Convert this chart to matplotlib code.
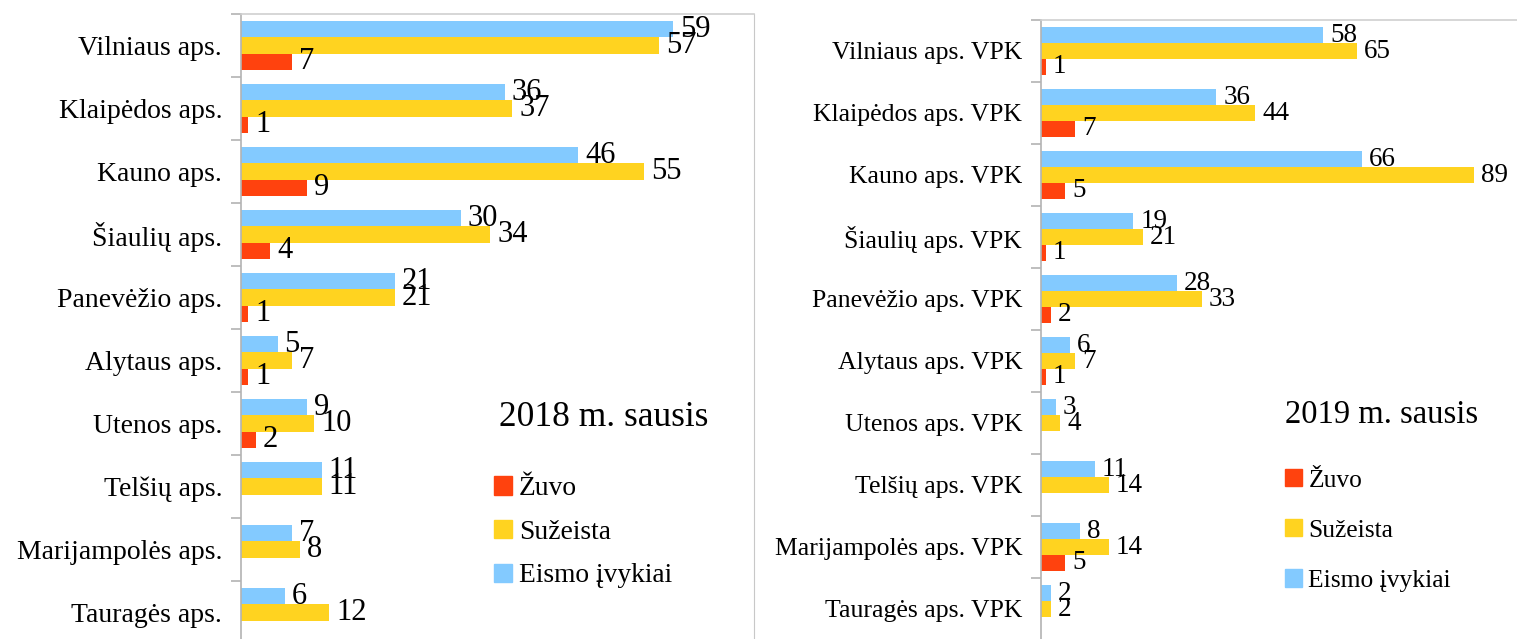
import numpy as np
import matplotlib
matplotlib.use("Agg")
import matplotlib.pyplot as plt
from matplotlib.patches import Patch

plt.rcParams['font.family'] = ['Liberation Serif', 'DejaVu Serif']

# duomenys
aps_2018 = ['Vilniaus aps.', 'Klaipėdos aps.', 'Kauno aps.', 'Šiaulių aps.', 'Panevėžio aps.',
            'Alytaus aps.', 'Utenos aps.', 'Telšių aps.', 'Marijampolės aps.', 'Tauragės aps.']
ivykiai_2018 = [59, 36, 46, 30, 21, 5, 9, 11, 7, 6]
suzeista_2018 = [57, 37, 55, 34, 21, 7, 10, 11, 8, 12]
zuvo_2018 = [7, 1, 9, 4, 1, 1, 2, 0, 0, 0]

aps_2019 = ['Vilniaus aps. VPK', 'Klaipėdos aps. VPK', 'Kauno aps. VPK', 'Šiaulių aps. VPK',
            'Panevėžio aps. VPK', 'Alytaus aps. VPK', 'Utenos aps. VPK', 'Telšių aps. VPK',
            'Marijampolės aps. VPK', 'Tauragės aps. VPK']
ivykiai_2019 = [58, 36, 66, 19, 28, 6, 3, 11, 8, 2]
suzeista_2019 = [65, 44, 89, 21, 33, 7, 4, 14, 14, 2]
zuvo_2019 = [1, 7, 5, 1, 2, 1, 0, 0, 5, 0]

serijos = ['Žuvo', 'Sužeista', 'Eismo įvykiai']
spalvos = {'Žuvo': '#ff420e', 'Sužeista': '#ffd320', 'Eismo įvykiai': '#83caff'}

W, H = 1517, 639
fig = plt.figure(figsize=(W / 100, H / 100), dpi=100)


def grafikas(rect, kategorijos, ivykiai, suzeista, zuvo, xmax, f_lab, f_val, pavadinimas,
             f_tit, tit_xy, f_leg, leg_xy, leg_sp, rank, desinys_remas):
    ax = fig.add_axes(rect)
    y = np.arange(len(kategorijos))
    h = 0.254
    for vals, dy, name in [(ivykiai, -h, 'Eismo įvykiai'), (suzeista, 0, 'Sužeista'), (zuvo, h, 'Žuvo')]:
        bars = ax.barh(y + dy, vals, height=h, color=spalvos[name], linewidth=0)
        for b, v in zip(bars, vals):
            if v == 0:
                continue
            ax.annotate(str(v), (v, b.get_y() + b.get_height() / 2), xytext=(5, 0),
                        textcoords='offset points', va='center', ha='left', fontsize=f_val)
    ax.set_xlim(0, xmax)
    ax.set_ylim(len(kategorijos) - 0.5, -0.5)
    ax.set_xticks([])
    # kategoriju ribos - didziosios zymes, pavadinimai - mazosios
    ax.set_yticks(np.arange(len(kategorijos) + 1) - 0.5)
    ax.set_yticklabels([])
    ax.tick_params(axis='y', which='major', length=7.5, color='#b3b3b3', width=1.2)
    ax.set_yticks(y, minor=True)
    ax.set_yticklabels(kategorijos, minor=True, fontsize=f_lab)
    ax.tick_params(axis='y', which='minor', length=0, pad=13.5)
    ax.spines['left'].set_color('#b3b3b3')
    ax.spines['left'].set_linewidth(1.2)
    ax.spines['top'].set_color('#d0d0d0')
    ax.spines['top'].set_linewidth(1.2)
    ax.spines['bottom'].set_visible(False)
    if desinys_remas:
        ax.spines['right'].set_color('#c8c8c8')
    else:
        ax.spines['right'].set_visible(False)

    fig.text(tit_xy[0] / W, 1 - tit_xy[1] / H, pavadinimas, fontsize=f_tit, va='center', ha='left')
    rankenos = [Patch(color=spalvos[s]) for s in serijos]
    fig.legend(rankenos, serijos, loc='upper left', bbox_to_anchor=(leg_xy[0] / W, 1 - leg_xy[1] / H),
               frameon=False, fontsize=f_leg, borderpad=0, borderaxespad=0,
               handlelength=rank, handleheight=rank, handletextpad=0.25, labelspacing=leg_sp)
    return ax


grafikas([241 / W, -5 / H, 513 / W, 630 / H], aps_2018, ivykiai_2018, suzeista_2018, zuvo_2018,
         70, 20, 22, '2018 m. sausis', 25.5, (499, 418), 19.8, (494, 476), 0.68, 0.65, True)
grafikas([1041 / W, -1 / H, 476 / W, 620 / H], aps_2019, ivykiai_2019, suzeista_2019, zuvo_2019,
         97.8, 18.5, 19.5, '2019 m. sausis', 23.5, (1285, 415), 18.4, (1285, 469), 1.08, 0.66, False)

fig.savefig('out.png', dpi=100)
